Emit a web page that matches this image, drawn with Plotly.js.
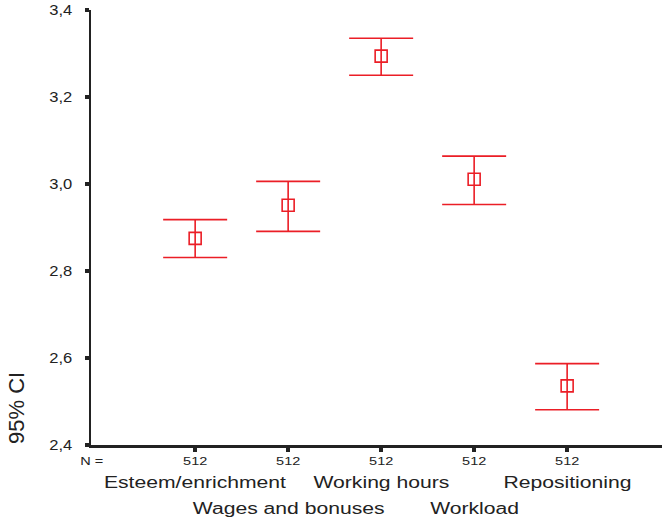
<!DOCTYPE html>
<html>
<head>
<meta charset="utf-8">
<script src="https://cdn.plot.ly/plotly-3.0.1.min.js"></script>
<style>html,body{margin:0;padding:0;background:#fff;}#chart{width:662px;height:519px;}</style>
</head>
<body>
<div id="chart"></div>
<script>
var categories = ["Esteem/enrichment", "Wages and bonuses", "Working hours", "Workload", "Repositioning"];
var nValues = [512, 512, 512, 512, 512];
var means = [2.875, 2.951, 3.294, 3.011, 2.536];
var upper = [2.918, 3.006, 3.335, 3.064, 2.587];
var lower = [2.831, 2.891, 3.250, 2.953, 2.481];
var yTicks = [2.4, 2.6, 2.8, 3.0, 3.2, 3.4];

var red = "rgb(235,30,38)";
var ink = "#222";
var xs = categories.map(function(c, i){ return i + 1; });
var plus = means.map(function(m, i){ return upper[i] - m; });
var minus = means.map(function(m, i){ return m - lower[i]; });

var trace = {
  x: xs, y: means, type: "scatter", mode: "markers",
  marker: {symbol: "square-open", size: 12, color: red, line: {width: 1.6, color: red}},
  error_y: {type: "data", symmetric: false, array: plus, arrayminus: minus,
            color: red, thickness: 1.6, width: 32},
  hoverinfo: "skip", showlegend: false
};

var font = "Liberation Sans, Arial, sans-serif";
var annotations = [];
annotations.push({xref: "paper", yref: "paper", x: 0, y: 0, yshift: -16,
  text: "N =", showarrow: false, xanchor: "center", yanchor: "middle",
  font: {family: font, size: 11, color: ink}});
categories.forEach(function(c, i){
  annotations.push({xref: "x", yref: "paper", x: xs[i], y: 0, yshift: -16,
    text: String(nValues[i]), showarrow: false, xanchor: "center", yanchor: "middle",
    font: {family: font, size: 11, color: ink}});
  annotations.push({xref: "x", yref: "paper", x: xs[i], y: 0, yshift: (i % 2 === 0) ? -37 : -63,
    text: c, showarrow: false, xanchor: "center", yanchor: "middle",
    font: {family: font, size: 16, color: ink}});
});
annotations.push({xref: "paper", yref: "paper", x: 0, y: 0, xshift: -75, yshift: -1,
  text: "95% CI", textangle: -90, showarrow: false, xanchor: "center", yanchor: "bottom",
  font: {family: font, size: 22, color: ink}});

var layout = {
  width: 662, height: 519,
  margin: {l: 91, r: 0, t: 10, b: 74},
  paper_bgcolor: "#fff", plot_bgcolor: "#fff",
  separators: ", ",
  xaxis: {range: [-0.12, 6.02], showgrid: false, zeroline: false,
          showline: true, linecolor: ink, linewidth: 2.5,
          tickmode: "array", tickvals: xs, ticktext: xs.map(function(){return "";}),
          ticks: "outside", ticklen: 4, tickwidth: 4, tickcolor: ink, fixedrange: true},
  yaxis: {range: [2.4, 3.4], showgrid: false, zeroline: false,
          showline: true, linecolor: ink, linewidth: 2,
          tickmode: "array", tickvals: yTicks, ticktext: yTicks.map(function(v){return v.toFixed(1).replace(".", ",");}),
          ticks: "outside", ticklen: 4, tickwidth: 4, tickcolor: ink, ticklabelstandoff: 10,
          tickfont: {family: font, size: 14, color: ink}, fixedrange: true},
  annotations: annotations
};

function stretch(nodes, factor){
  nodes.forEach(function(t){
    var w = t.getComputedTextLength();
    if (w > 0) {
      t.setAttribute("textLength", (w * factor).toFixed(1));
      t.setAttribute("lengthAdjust", "spacingAndGlyphs");
    }
  });
}

Plotly.newPlot("chart", [trace], layout, {displayModeBar: false, staticPlot: true}).then(function(gd){
  var ann = Array.prototype.slice.call(gd.querySelectorAll(".annotation-text"));
  stretch(ann.filter(function(t){ return t.textContent !== "95% CI"; }), 1.32);
  stretch(Array.prototype.slice.call(gd.querySelectorAll(".ytick text")), 1.18);
});
</script>
</body>
</html>
